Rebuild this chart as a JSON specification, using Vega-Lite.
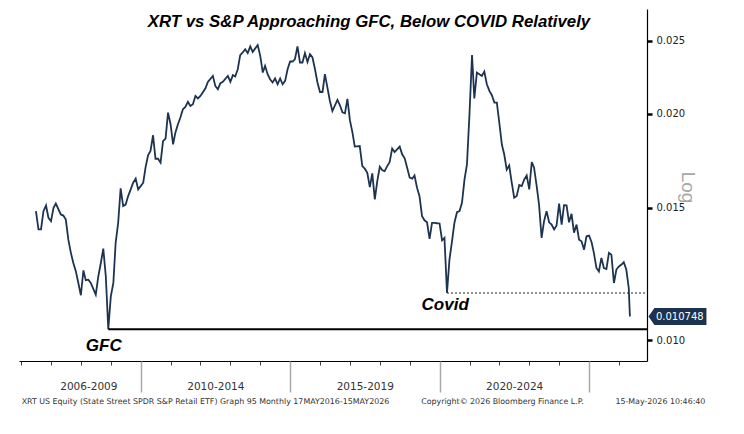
{
  "$schema": "https://vega.github.io/schema/vega-lite/v6.json",
  "autosize": "none",
  "width": 628,
  "height": 352,
  "padding": {"left": 19, "top": 9, "right": 97, "bottom": 73},
  "background": "white",
  "title": {
    "text": "XRT vs S&P Approaching GFC, Below COVID Relatively",
    "font": "Liberation Sans",
    "fontSize": 16.8,
    "fontStyle": "italic",
    "fontWeight": "bold",
    "color": "#000",
    "anchor": "middle",
    "frame": "group",
    "baseline": "alphabetic",
    "offset": 0,
    "dx": 36,
    "dy": 35
  },
  "config": {
    "view": {"stroke": null},
    "axis": {"grid": false}
  },
  "datasets": {
    "series": [
      {"d": "2006-07-01", "v": 0.01484}, {"d": "2006-08-01", "v": 0.01403}, {"d": "2006-09-01", "v": 0.01403},
      {"d": "2006-10-01", "v": 0.01484}, {"d": "2006-11-01", "v": 0.01510}, {"d": "2006-12-01", "v": 0.01454},
      {"d": "2007-01-01", "v": 0.01439}, {"d": "2007-02-01", "v": 0.01499}, {"d": "2007-03-01", "v": 0.01519},
      {"d": "2007-05-01", "v": 0.01469}, {"d": "2007-06-01", "v": 0.01464}, {"d": "2007-07-01", "v": 0.01446},
      {"d": "2007-08-01", "v": 0.01360}, {"d": "2007-09-01", "v": 0.01306}, {"d": "2007-10-01", "v": 0.01266},
      {"d": "2007-11-01", "v": 0.01234}, {"d": "2007-12-01", "v": 0.01191}, {"d": "2008-01-01", "v": 0.01147},
      {"d": "2008-02-01", "v": 0.01238}, {"d": "2008-03-01", "v": 0.01201}, {"d": "2008-04-01", "v": 0.01203},
      {"d": "2008-05-01", "v": 0.01191}, {"d": "2008-07-01", "v": 0.01149}, {"d": "2008-08-01", "v": 0.01215},
      {"d": "2008-09-01", "v": 0.01266}, {"d": "2008-10-01", "v": 0.01323}, {"d": "2008-11-01", "v": 0.01215},
      {"d": "2008-12-01", "v": 0.01034}, {"d": "2009-01-01", "v": 0.01143}, {"d": "2009-02-01", "v": 0.01191},
      {"d": "2009-03-01", "v": 0.01347}, {"d": "2009-04-01", "v": 0.01432}, {"d": "2009-05-01", "v": 0.01591},
      {"d": "2009-06-01", "v": 0.01507}, {"d": "2009-07-01", "v": 0.01514}, {"d": "2009-08-01", "v": 0.01554},
      {"d": "2009-09-01", "v": 0.01586}, {"d": "2009-10-01", "v": 0.01619}, {"d": "2009-11-01", "v": 0.01639},
      {"d": "2009-12-01", "v": 0.01586}, {"d": "2010-01-01", "v": 0.01602}, {"d": "2010-02-01", "v": 0.01619},
      {"d": "2010-03-01", "v": 0.01695}, {"d": "2010-04-01", "v": 0.01760}, {"d": "2010-05-01", "v": 0.01784},
      {"d": "2010-06-01", "v": 0.01872}, {"d": "2010-07-01", "v": 0.01742}, {"d": "2010-08-01", "v": 0.01742},
      {"d": "2010-09-01", "v": 0.01721}, {"d": "2010-10-01", "v": 0.01839}, {"d": "2010-11-01", "v": 0.01853},
      {"d": "2010-12-01", "v": 0.02006}, {"d": "2011-01-01", "v": 0.01936}, {"d": "2011-02-01", "v": 0.01821},
      {"d": "2011-03-01", "v": 0.01887}, {"d": "2011-04-01", "v": 0.01936}, {"d": "2011-05-01", "v": 0.01976},
      {"d": "2011-06-01", "v": 0.02027}, {"d": "2011-07-01", "v": 0.02041}, {"d": "2011-08-01", "v": 0.02073},
      {"d": "2011-09-01", "v": 0.02048}, {"d": "2011-10-01", "v": 0.02058}, {"d": "2011-11-01", "v": 0.02111},
      {"d": "2011-12-01", "v": 0.02095}, {"d": "2012-01-01", "v": 0.02111}, {"d": "2012-03-01", "v": 0.02160},
      {"d": "2012-04-01", "v": 0.02204}, {"d": "2012-06-01", "v": 0.02245}, {"d": "2012-07-01", "v": 0.02177},
      {"d": "2012-08-01", "v": 0.02155}, {"d": "2012-09-01", "v": 0.02195}, {"d": "2012-10-01", "v": 0.02204},
      {"d": "2012-12-01", "v": 0.02245}, {"d": "2013-01-01", "v": 0.02204}, {"d": "2013-02-01", "v": 0.02250},
      {"d": "2013-03-01", "v": 0.02241}, {"d": "2013-04-01", "v": 0.02291}, {"d": "2013-05-01", "v": 0.02392},
      {"d": "2013-06-01", "v": 0.02412}, {"d": "2013-07-01", "v": 0.02436}, {"d": "2013-08-01", "v": 0.02407},
      {"d": "2013-09-01", "v": 0.02457}, {"d": "2013-10-01", "v": 0.02416}, {"d": "2013-11-01", "v": 0.02442},
      {"d": "2013-12-01", "v": 0.02467}, {"d": "2014-01-01", "v": 0.02387}, {"d": "2014-02-01", "v": 0.02268},
      {"d": "2014-03-01", "v": 0.02315}, {"d": "2014-04-01", "v": 0.02257}, {"d": "2014-05-01", "v": 0.02222},
      {"d": "2014-06-01", "v": 0.02200}, {"d": "2014-07-01", "v": 0.02227}, {"d": "2014-08-01", "v": 0.02188},
      {"d": "2014-09-01", "v": 0.02227}, {"d": "2014-10-01", "v": 0.02188}, {"d": "2014-11-01", "v": 0.02211},
      {"d": "2014-12-01", "v": 0.02291}, {"d": "2015-01-01", "v": 0.02346}, {"d": "2015-02-01", "v": 0.02346},
      {"d": "2015-03-01", "v": 0.02363}, {"d": "2015-04-01", "v": 0.02457}, {"d": "2015-05-01", "v": 0.02339},
      {"d": "2015-06-01", "v": 0.02339}, {"d": "2015-07-01", "v": 0.02407}, {"d": "2015-08-01", "v": 0.02343},
      {"d": "2015-09-01", "v": 0.02399}, {"d": "2015-10-01", "v": 0.02375}, {"d": "2015-11-01", "v": 0.02291},
      {"d": "2015-12-01", "v": 0.02200}, {"d": "2016-01-01", "v": 0.02137}, {"d": "2016-02-01", "v": 0.02137},
      {"d": "2016-03-01", "v": 0.02257}, {"d": "2016-04-01", "v": 0.02166}, {"d": "2016-05-01", "v": 0.02079},
      {"d": "2016-06-01", "v": 0.02016}, {"d": "2016-08-01", "v": 0.02086}, {"d": "2016-09-01", "v": 0.02052},
      {"d": "2016-10-01", "v": 0.02008}, {"d": "2016-11-01", "v": 0.02002}, {"d": "2016-12-01", "v": 0.02093},
      {"d": "2017-01-01", "v": 0.01959}, {"d": "2017-02-01", "v": 0.01887}, {"d": "2017-03-01", "v": 0.01808},
      {"d": "2017-05-01", "v": 0.01811}, {"d": "2017-06-01", "v": 0.01703}, {"d": "2017-07-01", "v": 0.01690},
      {"d": "2017-08-01", "v": 0.01669}, {"d": "2017-09-01", "v": 0.01597}, {"d": "2017-10-01", "v": 0.01666},
      {"d": "2017-11-01", "v": 0.01538}, {"d": "2017-12-01", "v": 0.01627}, {"d": "2018-01-01", "v": 0.01700},
      {"d": "2018-02-01", "v": 0.01682}, {"d": "2018-03-01", "v": 0.01677}, {"d": "2018-04-01", "v": 0.01703},
      {"d": "2018-05-01", "v": 0.01724}, {"d": "2018-06-01", "v": 0.01797}, {"d": "2018-07-01", "v": 0.01778},
      {"d": "2018-09-01", "v": 0.01808}, {"d": "2018-10-01", "v": 0.01766}, {"d": "2018-11-01", "v": 0.01744},
      {"d": "2018-12-01", "v": 0.01695}, {"d": "2019-01-01", "v": 0.01644}, {"d": "2019-02-01", "v": 0.01639},
      {"d": "2019-03-01", "v": 0.01655}, {"d": "2019-04-01", "v": 0.01594}, {"d": "2019-05-01", "v": 0.01554},
      {"d": "2019-06-01", "v": 0.01461}, {"d": "2019-07-01", "v": 0.01443}, {"d": "2019-08-01", "v": 0.01434},
      {"d": "2019-09-01", "v": 0.01363}, {"d": "2019-10-01", "v": 0.01432}, {"d": "2019-11-01", "v": 0.01432},
      {"d": "2019-12-01", "v": 0.01430}, {"d": "2020-01-01", "v": 0.01429}, {"d": "2020-02-01", "v": 0.01357},
      {"d": "2020-03-01", "v": 0.01367}, {"d": "2020-04-01", "v": 0.01155}, {"d": "2020-05-01", "v": 0.01279},
      {"d": "2020-06-01", "v": 0.01353}, {"d": "2020-07-01", "v": 0.01432}, {"d": "2020-08-01", "v": 0.01479},
      {"d": "2020-09-01", "v": 0.01484}, {"d": "2020-10-01", "v": 0.01522}, {"d": "2020-11-01", "v": 0.01635},
      {"d": "2020-12-01", "v": 0.01712}, {"d": "2021-01-01", "v": 0.02000}, {"d": "2021-02-01", "v": 0.02392},
      {"d": "2021-03-01", "v": 0.02095}, {"d": "2021-04-01", "v": 0.02268}, {"d": "2021-05-01", "v": 0.02257},
      {"d": "2021-06-01", "v": 0.02245}, {"d": "2021-07-01", "v": 0.02275}, {"d": "2021-08-01", "v": 0.02188},
      {"d": "2021-09-01", "v": 0.02144}, {"d": "2021-10-01", "v": 0.02116}, {"d": "2021-11-01", "v": 0.02069},
      {"d": "2021-12-01", "v": 0.02068}, {"d": "2022-01-01", "v": 0.01942}, {"d": "2022-02-01", "v": 0.01818},
      {"d": "2022-03-01", "v": 0.01766}, {"d": "2022-04-01", "v": 0.01685}, {"d": "2022-05-01", "v": 0.01707},
      {"d": "2022-06-01", "v": 0.01619}, {"d": "2022-07-01", "v": 0.01546}, {"d": "2022-08-01", "v": 0.01554},
      {"d": "2022-09-01", "v": 0.01607}, {"d": "2022-10-01", "v": 0.01602}, {"d": "2022-11-01", "v": 0.01635},
      {"d": "2022-12-01", "v": 0.01655}, {"d": "2023-01-01", "v": 0.01586}, {"d": "2023-02-01", "v": 0.01724},
      {"d": "2023-03-01", "v": 0.01695}, {"d": "2023-04-01", "v": 0.01605}, {"d": "2023-05-01", "v": 0.01514},
      {"d": "2023-06-01", "v": 0.01367}, {"d": "2023-07-01", "v": 0.01439}, {"d": "2023-08-01", "v": 0.01484},
      {"d": "2023-09-01", "v": 0.01434}, {"d": "2023-10-01", "v": 0.01424}, {"d": "2023-11-01", "v": 0.01403},
      {"d": "2023-12-01", "v": 0.01420}, {"d": "2024-01-01", "v": 0.01519}, {"d": "2024-02-01", "v": 0.01424},
      {"d": "2024-03-01", "v": 0.01511}, {"d": "2024-04-01", "v": 0.01510}, {"d": "2024-05-01", "v": 0.01434},
      {"d": "2024-06-01", "v": 0.01472}, {"d": "2024-07-01", "v": 0.01389}, {"d": "2024-08-01", "v": 0.01424},
      {"d": "2024-09-01", "v": 0.01360}, {"d": "2024-10-01", "v": 0.01353}, {"d": "2024-11-01", "v": 0.01319},
      {"d": "2024-12-01", "v": 0.01374}, {"d": "2025-01-01", "v": 0.01377}, {"d": "2025-02-01", "v": 0.01349},
      {"d": "2025-03-01", "v": 0.01306}, {"d": "2025-04-01", "v": 0.01247}, {"d": "2025-05-01", "v": 0.01234},
      {"d": "2025-06-01", "v": 0.01286}, {"d": "2025-07-01", "v": 0.01247}, {"d": "2025-08-01", "v": 0.01243},
      {"d": "2025-09-01", "v": 0.01306}, {"d": "2025-10-01", "v": 0.01299}, {"d": "2025-11-01", "v": 0.01191},
      {"d": "2025-12-01", "v": 0.01241}, {"d": "2026-01-01", "v": 0.01253}, {"d": "2026-02-01", "v": 0.01260},
      {"d": "2026-03-01", "v": 0.01269}, {"d": "2026-04-01", "v": 0.01241}, {"d": "2026-05-01", "v": 0.01173},
      {"d": "2026-05-15", "v": 0.010748}
    ],
    "levels": [
      {"name": "GFC", "d": "2008-12-01", "d2": "2026-12-10", "v": 0.01034},
      {"name": "Covid", "d": "2020-04-01", "d2": "2026-12-10", "v": 0.01155}
    ],
    "notes": [
      {"label": "GFC", "d": "2008-10-07", "v": 0.009827},
      {"label": "Covid", "d": "2020-03-10", "v": 0.011142}
    ],
    "last": [
      {"d": "2026-05-15", "v": 0.010748, "label": "0.010748"}
    ]
  },
  "resolve": {"axis": {"x": "independent"}},
  "layer": [
    {
      "data": {"name": "series"},
      "mark": {"type": "line", "color": "#1d3451", "strokeWidth": 1.8},
      "encoding": {
        "x": {
          "field": "d",
          "type": "temporal",
          "scale": {"domain": [{"year": 2005, "month": 12, "date": 6}, {"year": 2026, "month": 12, "date": 10}]},
          "axis": {
            "orient": "bottom",
            "title": null,
            "labels": false,
            "tickCount": {"interval": "year", "step": 1},
            "tickSize": 4,
            "tickColor": "#444",
            "domainColor": "#000",
            "domainWidth": 1.2
          }
        },
        "y": {
          "field": "v",
          "type": "quantitative",
          "scale": {"type": "log", "domain": [0.00938, 0.02755], "nice": false},
          "axis": {
            "orient": "right",
            "values": [0.01, 0.015, 0.02, 0.025],
            "format": ".3f",
            "tickSize": 5,
            "tickWidth": 2.5,
            "tickColor": "#000",
            "domainColor": "#000",
            "domainWidth": 1.2,
            "labelFont": "DejaVu Sans",
            "labelFontSize": 10,
            "labelColor": "#222",
            "labelPadding": 4,
            "title": "Log",
            "titleFont": "Liberation Sans",
            "titleFontSize": 19,
            "titleFontWeight": "normal",
            "titleColor": "#a6a6a6",
            "titleAngle": 90,
            "titleAlign": "center",
            "titleBaseline": "middle",
            "titleX": 40,
            "titleY": 178
          }
        }
      }
    },
    {
      "data": {"name": "levels"},
      "transform": [{"filter": "datum.name == 'GFC'"}],
      "mark": {"type": "rule", "color": "#000", "strokeWidth": 2},
      "encoding": {
        "x": {
          "field": "d",
          "type": "temporal",
          "axis": {
            "orient": "bottom",
            "title": null,
            "labels": false,
            "domain": false,
            "values": [
              {"year": 2010, "month": 1, "date": 1},
              {"year": 2015, "month": 1, "date": 1},
              {"year": 2020, "month": 1, "date": 1},
              {"year": 2025, "month": 1, "date": 1}
            ],
            "tickSize": 31,
            "tickWidth": 1.5,
            "tickColor": "#a8a8a8"
          }
        },
        "x2": {"field": "d2"},
        "y": {"field": "v", "type": "quantitative"}
      }
    },
    {
      "data": {"name": "levels"},
      "transform": [{"filter": "datum.name == 'Covid'"}],
      "mark": {"type": "rule", "color": "#222", "strokeWidth": 1, "strokeDash": [2, 2]},
      "encoding": {
        "x": {
          "field": "d",
          "type": "temporal",
          "axis": {
            "orient": "bottom",
            "title": null,
            "domain": false,
            "ticks": false,
            "tickSize": 0,
            "values": [
              {"year": 2008, "month": 4, "date": 1},
              {"year": 2012, "month": 7, "date": 1},
              {"year": 2017, "month": 7, "date": 1},
              {"year": 2022, "month": 7, "date": 1}
            ],
            "labelExpr": "year(datum.value) == 2008 ? '2006-2009' : year(datum.value) == 2012 ? '2010-2014' : year(datum.value) == 2017 ? '2015-2019' : '2020-2024'",
            "labelFont": "DejaVu Sans",
            "labelFontSize": 10.5,
            "labelColor": "#333",
            "labelBaseline": "top",
            "labelPadding": 20,
            "labelFlush": false,
            "labelOverlap": false
          }
        },
        "x2": {"field": "d2"},
        "y": {"field": "v", "type": "quantitative"}
      }
    },
    {
      "data": {"name": "notes"},
      "mark": {
        "type": "text",
        "font": "Liberation Sans",
        "fontSize": 17,
        "fontStyle": "italic",
        "fontWeight": "bold",
        "color": "#000",
        "align": "center",
        "baseline": "middle"
      },
      "encoding": {
        "x": {
          "field": "d",
          "type": "temporal",
          "axis": {
            "orient": "bottom",
            "title": null,
            "domain": false,
            "ticks": false,
            "tickSize": 0,
            "values": [
              {"year": 2006, "month": 1, "date": 1},
              {"year": 2019, "month": 5, "date": 15},
              {"year": 2025, "month": 11, "date": 13}
            ],
            "labelExpr": "year(datum.value) == 2006 ? 'XRT US Equity (State Street SPDR S&P Retail ETF) Graph 95 Monthly 17MAY2016-15MAY2026' : year(datum.value) == 2019 ? 'Copyright\u00a9 2026 Bloomberg Finance L.P.' : '15-May-2026 10:46:40'",
            "labelFont": "DejaVu Sans",
            "labelFontSize": 7.9,
            "labelColor": "#333",
            "labelAlign": "left",
            "labelBaseline": "top",
            "labelPadding": 36,
            "labelFlush": false,
            "labelOverlap": false,
            "labelLimit": 0
          }
        },
        "y": {"field": "v", "type": "quantitative"},
        "text": {"field": "label"}
      }
    },
    {
      "data": {"name": "last"},
      "mark": {
        "type": "point",
        "shape": "M0,0L0.21,-0.3L2.07,-0.3L2.07,0.3L0.21,0.3Z",
        "size": 3136,
        "filled": true,
        "opacity": 1,
        "color": "#1b3350",
        "xOffset": 18.6
      },
      "encoding": {
        "x": {"field": "d", "type": "temporal", "axis": null},
        "y": {"field": "v", "type": "quantitative"}
      }
    },
    {
      "data": {"name": "last"},
      "mark": {
        "type": "text",
        "font": "DejaVu Sans",
        "fontSize": 10,
        "color": "#fff",
        "align": "left",
        "baseline": "middle",
        "dx": 26
      },
      "encoding": {
        "x": {"field": "d", "type": "temporal", "axis": null},
        "y": {"field": "v", "type": "quantitative"},
        "text": {"field": "label"}
      }
    }
  ]
}
